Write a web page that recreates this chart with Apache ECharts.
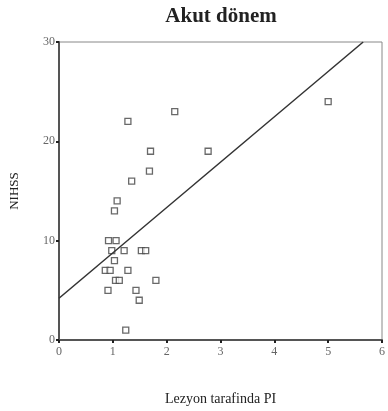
<!DOCTYPE html>
<html lang="en">
<head>
    <meta charset="UTF-8">
    <title>Akut dönem</title>
    <script src="https://cdn.jsdelivr.net/npm/echarts@6/dist/echarts.min.js"></script>
    <style>
        html, body { margin: 0; padding: 0; background: #fff; }
    </style>
</head>
<body>
    <div id="main" style="width: 388px;height:411px;"></div>
</body>
<script>
    // PI values (x) and NIHSS scores (y)
    var piValues = [5.0, 2.15, 1.28, 1.70, 2.77, 1.68, 1.35, 1.08, 1.03, 0.92, 1.06, 0.98, 1.21,
        1.53, 1.61, 1.03, 0.86, 0.95, 1.28, 1.05, 1.12, 1.80, 0.91, 1.43, 1.49, 1.24];
    var nihssValues = [24, 23, 22, 19, 19, 17, 16, 14, 13, 10, 10, 9, 9,
        9, 9, 8, 7, 7, 7, 6, 6, 6, 5, 5, 4, 1];
    // regression line end points
    var fitX = [0, 5.65];
    var fitY = [4.2, 30];

    var points = piValues.map(function (v, i) { return [v, nihssValues[i]]; });
    var fitLine = fitX.map(function (v, i) { return [v, fitY[i]]; });

    var myChart = echarts.init(document.getElementById('main'));
    myChart.setOption({
        animation: false,
        title: {
            text: 'Akut dönem',
            left: 216,
            textAlign: 'center',
            top: 1,
            textStyle: {
                fontFamily: 'Liberation Serif',
                fontSize: 21,
                fontWeight: 'bold',
                color: '#222'
            }
        },
        grid: {
            left: 58,
            right: 4,
            top: 42,
            bottom: 68,
            show: true,
            borderColor: '#888',
            borderWidth: 1
        },
        xAxis: {
            type: 'value',
            min: 0,
            max: 6,
            interval: 1,
            name: 'Lezyon tarafinda PI',
            nameLocation: 'middle',
            nameGap: 52,
            nameTextStyle: {
                fontFamily: 'Liberation Serif',
                fontSize: 14,
                color: '#222'
            },
            splitLine: { show: false },
            axisLine: { lineStyle: { color: '#555', width: 2 } },
            axisTick: { length: 3, lineStyle: { color: '#222', width: 2 } },
            axisLabel: {
                fontFamily: 'Liberation Serif',
                fontSize: 12,
                color: '#666',
                margin: 6
            }
        },
        yAxis: {
            type: 'value',
            min: 0,
            max: 30,
            interval: 10,
            name: 'NIHSS',
            nameLocation: 'middle',
            nameGap: 38,
            nameTextStyle: {
                fontFamily: 'Liberation Serif',
                fontSize: 13,
                color: '#222'
            },
            splitLine: { show: false },
            axisLine: { lineStyle: { color: '#555', width: 2 } },
            axisTick: { length: 3, lineStyle: { color: '#222', width: 2 } },
            axisLabel: {
                fontFamily: 'Liberation Serif',
                fontSize: 12,
                color: '#666',
                margin: 4
            }
        },
        series: [{
            type: 'scatter',
            data: points,
            symbol: 'rect',
            symbolSize: 6,
            itemStyle: {
                color: '#fff',
                borderColor: '#444',
                borderWidth: 1.3
            }
        }, {
            type: 'line',
            data: fitLine,
            symbol: 'none',
            lineStyle: { color: '#333', width: 1.5 }
        }]
    });
</script>
</html>
